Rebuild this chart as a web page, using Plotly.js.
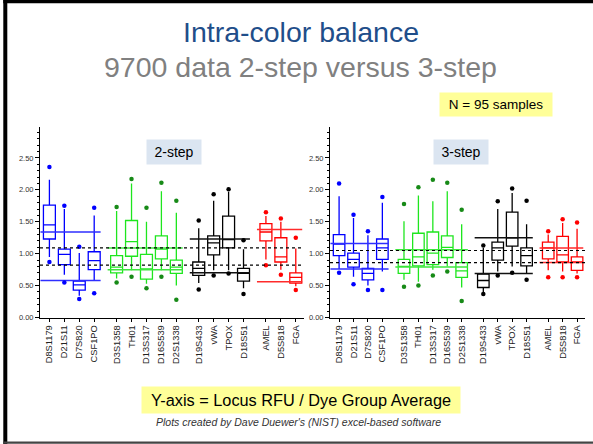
<!DOCTYPE html>
<html><head><meta charset="utf-8">
<script src="https://cdn.plot.ly/plotly-3.0.1.min.js"></script>
<style>html,body{margin:0;padding:0;background:#fff;} #chart{width:593px;height:444px;}</style>
</head><body><div id="chart"></div>
<script>
// ---------- data ----------
const loci = ['D8S1179','D21S11','D7S820','CSF1PO','D3S1358','TH01','D13S317','D16S539','D2S1338','D19S433','vWA','TPOX','D18S51','AMEL','D5S818','FGA'];
const dyeGroup = ['blue','blue','blue','blue','green','green','green','green','green','black','black','black','black','red','red','red'];
const groupNames = ['blue','green','black','red'];
const yTicks = [0, 0.5, 1.0, 1.5, 2.0, 2.5];

// 2-step
const s2OutHigh  = [2.36,1.75,1.11,1.72, 1.73,2.17,1.72,2.11,1.83, 1.52,1.93,2.01,1.21, 1.65,1.55,1.25];
const s2WhiskHigh= [2.16,1.70,1.01,1.60, 1.67,2.10,1.50,1.98,1.64, 1.40,1.83,1.97,1.07, 1.59,1.50,1.08];
const s2Q3       = [1.76,1.07,0.57,1.03, 0.97,1.52,0.99,1.28,0.90, 0.87,1.28,1.59,0.77, 1.47,1.25,0.70];
const s2Median   = [1.45,0.99,0.51,0.89, 0.79,1.19,0.76,1.07,0.79, 0.77,1.17,1.22,0.69, 1.34,0.95,0.63];
const s2Q1       = [1.23,0.83,0.43,0.75, 0.70,0.96,0.60,0.92,0.69, 0.66,0.98,1.09,0.57, 1.20,0.87,0.54];
const s2WhiskLow = [0.95,0.67,0.34,0.58, 0.61,0.74,0.53,0.74,0.50, 0.54,0.74,0.74,0.46, 0.91,0.75,0.49];
const s2OutLow   = [0.87,0.55,0.29,0.38, 0.55,0.64,0.46,0.64,0.28, 0.44,0.66,0.69,0.37, 0.82,0.67,0.43];
const s2GroupHigh = [1.34, 1.09, 1.23, 1.38];
const s2GroupLow  = [0.58, 0.75, 0.70, 0.56];
const s2Overall   = [1.09, 0.82];

// 3-step
const s3OutHigh  = [2.10,1.61,1.35,1.89, 1.78,2.04,2.16,2.11,1.69, 1.13,1.82,2.02,1.83, 1.35,1.54,1.49];
const s3WhiskHigh= [1.90,1.56,1.29,1.80, 1.51,1.91,1.82,1.98,1.46, 1.09,1.70,1.95,1.46, 1.30,1.48,1.39];
const s3Q3       = [1.30,1.01,0.77,1.23, 0.91,1.32,1.34,1.28,0.86, 0.68,1.18,1.65,1.09, 1.18,1.27,0.95];
const s3Median   = [1.15,0.91,0.69,1.09, 0.80,0.95,1.01,1.10,0.73, 0.58,1.09,1.25,0.97, 1.09,0.98,0.87];
const s3Q1       = [0.97,0.79,0.59,0.91, 0.69,0.81,0.83,0.94,0.63, 0.47,0.90,1.12,0.81, 0.92,0.87,0.74];
const s3WhiskLow = [0.76,0.64,0.50,0.72, 0.59,0.56,0.75,0.80,0.47, 0.40,0.72,0.80,0.69, 0.74,0.72,0.69];
const s3OutLow   = [0.70,0.52,0.43,0.43, 0.48,0.50,0.66,0.72,0.26, 0.37,0.66,0.70,0.59, 0.63,0.63,0.63];
const s3GroupHigh = [1.16, 1.06, 1.25, 1.09];
const s3GroupLow  = [0.76, 0.79, 0.69, 0.86];
const s3Overall   = [1.05, 0.86];

// ---------- styling / layout ----------
const FONT = 'Liberation Sans, Arial, sans-serif';
const W = 593, H = 444;
const px = v => v / W, py = v => 1 - v / H;
const colors = {
  blue:  {line:'#0000ff', dot:'#0000ff', ref:'#2e2eff'},
  green: {line:'#1ee61e', dot:'#178a17', ref:'#3ee63e'},
  black: {line:'#000000', dot:'#000000', ref:'#111111'},
  red:   {line:'#ff0000', dot:'#ff0000', ref:'#ff2b2b'}
};

// category positions: 1 unit within a dye group, 1.5 between groups
const positions = [];
loci.forEach((l, i) => {
  if (i === 0) positions.push(0);
  else positions.push(positions[i-1] + (dyeGroup[i] === dyeGroup[i-1] ? 1 : 1.5));
});
const xRange = [-0.63, 17.05];

function panelTraces(xa, ya, st) {
  const traces = [];
  groupNames.forEach((g, gi) => {
    const idx = loci.map((_, i) => i).filter(i => dyeGroup[i] === g);
    const pick = arr => idx.map(i => arr[i]);
    const c = colors[g];
    traces.push({
      type:'box', orientation:'v', xaxis:xa, yaxis:ya,
      x: pick(positions), q1: pick(st.q1), median: pick(st.med), q3: pick(st.q3),
      lowerfence: pick(st.wl), upperfence: pick(st.wh),
      width: 0.8, whiskerwidth: 0, boxpoints: false,
      line:{color:c.line, width:1.3}, fillcolor:'rgba(0,0,0,0)',
      showlegend:false, hoverinfo:'skip'
    });
  });
  groupNames.forEach((g, gi) => {
    const idx = loci.map((_, i) => i).filter(i => dyeGroup[i] === g);
    const x0 = positions[idx[0]] - 0.6, x1 = positions[idx[idx.length-1]] + 0.43;
    traces.push({
      type:'scatter', mode:'lines', xaxis:xa, yaxis:ya,
      x:[x0, x1, null, x0, x1],
      y:[st.gh[gi], st.gh[gi], null, st.gl[gi], st.gl[gi]],
      line:{color:colors[g].ref, width:1.5}, showlegend:false, hoverinfo:'skip'
    });
  });
  groupNames.forEach(g => {
    const idx = loci.map((_, i) => i).filter(i => dyeGroup[i] === g);
    traces.push({
      type:'scatter', mode:'markers', xaxis:xa, yaxis:ya, cliponaxis:false,
      x: idx.map(i => positions[i]).concat(idx.map(i => positions[i])),
      y: idx.map(i => st.oh[i]).concat(idx.map(i => st.ol[i])),
      marker:{color:colors[g].dot, size:4.5}, showlegend:false, hoverinfo:'skip'
    });
  });
  return traces;
}

const step2 = {oh:s2OutHigh, wh:s2WhiskHigh, q3:s2Q3, med:s2Median, q1:s2Q1, wl:s2WhiskLow, ol:s2OutLow, gh:s2GroupHigh, gl:s2GroupLow};
const step3 = {oh:s3OutHigh, wh:s3WhiskHigh, q3:s3Q3, med:s3Median, q1:s3Q1, wl:s3WhiskLow, ol:s3OutLow, gh:s3GroupHigh, gl:s3GroupLow};

const data = panelTraces('x', 'y', step2).concat(panelTraces('x2', 'y2', step3));

const yDomain = [py(317.5), py(126.7)];
function xAxis(dom, anchor) {
  return {
    domain: dom, anchor: anchor, range: xRange,
    showline:true, linecolor:'#000', linewidth:1, mirror:false,
    ticks:'outside', ticklen:3, tickcolor:'#000', tickwidth:1,
    tickmode:'array', tickvals: positions, ticktext: loci, tickangle:-90,
    tickfont:{family:FONT, size:9.3, color:'#222'},
    showgrid:false, zeroline:false, fixedrange:true
  };
}
function yAxis(anchor) {
  return {
    domain: yDomain, anchor: anchor, range:[0, 2.99],
    showline:true, linecolor:'#000', linewidth:1,
    ticks:'outside', ticklen:4, tickcolor:'#000', tickwidth:1,
    tickmode:'linear', tick0:0, dtick:0.5, tickformat:'.2f',
    tickfont:{family:FONT, size:7.5, color:'#333'},
    minor:{dtick:0.1, tick0:0, ticks:'outside', ticklen:2, tickcolor:'#000', showgrid:false},
    showgrid:false, zeroline:false, fixedrange:true
  };
}

const shapes = [];
[['x','y',s2Overall],['x2','y2',s3Overall]].forEach(([xa, ya, vals]) => {
  vals.forEach(v => shapes.push({
    type:'line', xref:xa + ' domain', yref:ya, x0:0, x1:1, y0:v, y1:v,
    line:{color:'#000', width:1.2, dash:'dot'}
  }));
});
// slide frame
shapes.push({type:'rect', xref:'paper', yref:'paper', x0:px(3.3), x1:px(7.3), y0:0, y1:1, fillcolor:'#000', line:{width:0}});
shapes.push({type:'rect', xref:'paper', yref:'paper', x0:px(3.3), x1:1, y0:py(3.3), y1:1, fillcolor:'#000', line:{width:0}});
shapes.push({type:'rect', xref:'paper', yref:'paper', x0:px(3.3), x1:1, y0:py(443.8), y1:py(441.6), fillcolor:'#444', line:{width:0}});

const annotations = [
  {text:'Intra-color balance', x:px(300.5), y:py(31.7), font:{family:FONT, size:28.5, color:'#1f4e8a'}},
  {text:'9700 data 2-step versus 3-step', x:px(300.5), y:py(66.7), font:{family:FONT, size:28.5, color:'#808080'}},
  {text:'N = 95 samples', x:px(496), y:py(104.2), width:110, height:21, bgcolor:'#ffff99', font:{family:FONT, size:13.5, color:'#000'}},
  {text:'2-step', x:px(174.2), y:py(151.7), width:52, height:22, bgcolor:'#dbe5f1', font:{family:FONT, size:14, color:'#000'}},
  {text:'3-step', x:px(460.8), y:py(151.7), width:52, height:22, bgcolor:'#dbe5f1', font:{family:FONT, size:14, color:'#000'}},
  {text:'Y-axis = Locus RFU / Dye Group Average', x:px(301), y:py(400), width:316, height:24, bgcolor:'#ffff99', font:{family:FONT, size:16.3, color:'#000'}},
  {text:"<i>Plots created by Dave Duewer's (NIST) excel-based software</i>", x:px(298.5), y:py(422), font:{family:FONT, size:10.5, color:'#333'}}
].map(a => Object.assign({xref:'paper', yref:'paper', xanchor:'center', yanchor:'middle', showarrow:false, borderpad:1}, a));

const layout = {
  width:W, height:H, autosize:false,
  margin:{l:0, r:0, t:0, b:0, pad:0},
  paper_bgcolor:'#fff', plot_bgcolor:'#fff',
  showlegend:false,
  xaxis: xAxis([px(40), px(304)], 'y'),
  yaxis: yAxis('x'),
  xaxis2: xAxis([px(330), px(585)], 'y2'),
  yaxis2: yAxis('x2'),
  shapes: shapes,
  annotations: annotations,
  font:{family:FONT}
};

Plotly.newPlot('chart', data, layout, {displayModeBar:false, staticPlot:true});
</script>
</body></html>
